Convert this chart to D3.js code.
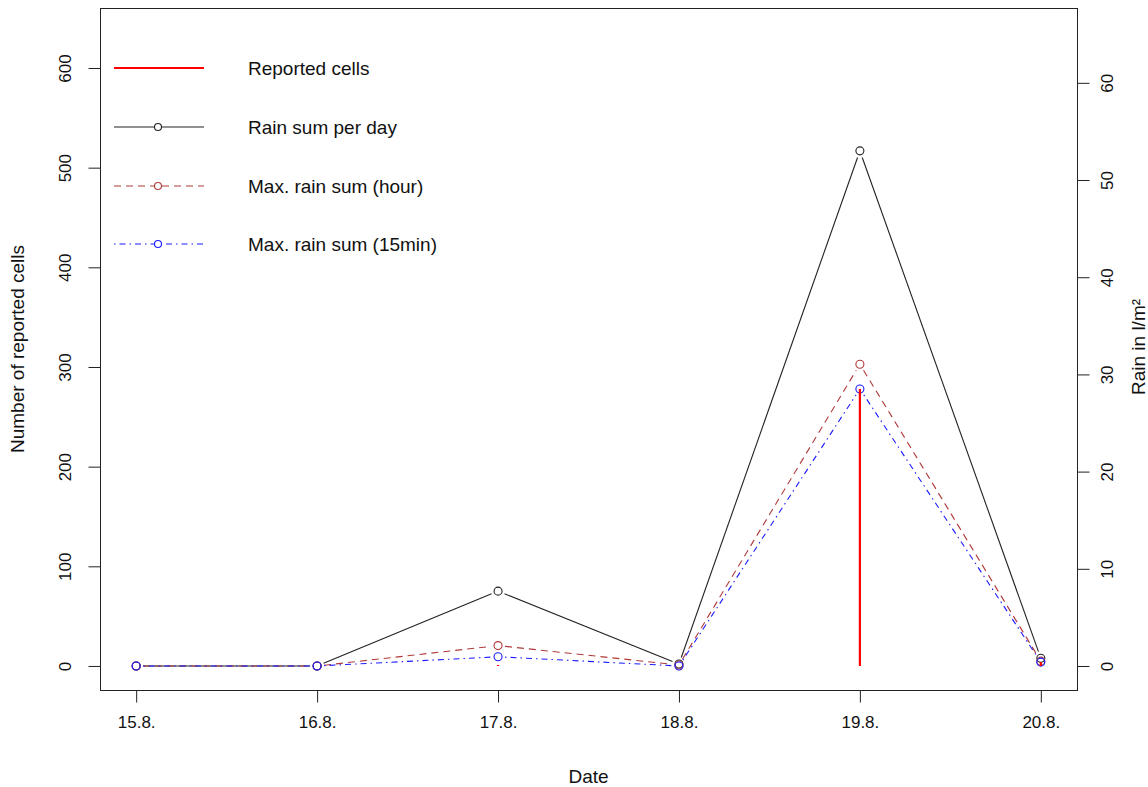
<!DOCTYPE html>
<html><head><meta charset="utf-8">
<script src="https://cdn.jsdelivr.net/npm/d3@7"></script>
<style>body{margin:0;background:#fff}svg{display:block;font-family:"Liberation Sans",Arial,sans-serif}</style>
</head><body><svg id="c" width="1148" height="787"></svg>
<script>
const dates = ["15.8.","16.8.","17.8.","18.8.","19.8.","20.8."];
const reportedCells = [0, 0, 1, 0, 278, 4];
const rainDay = [0, 0, 7.7, 0.2, 53.0, 0.8];
const rainHour = [0, 0, 2.1, 0.1, 31.05, 0.5];
const rain15 = [0, 0, 0.95, 0, 28.5, 0.4];
const leftTicks = [0,100,200,300,400,500,600];
const rightTicks = [0,10,20,30,40,50,60];
const legendLabels = ["Reported cells","Rain sum per day","Max. rain sum (hour)","Max. rain sum (15min)"];

const svg = d3.select("#c");
const L=100, R=1077, T=8, B=690;
const x = d3.scaleLinear().domain([-0.2,5.2]).range([L,R]);
const yL = d3.scaleLinear().domain([-24.1,660.2]).range([B,T]);
const yR = d3.scaleLinear().domain([-2.47,67.7]).range([B,T]);
const idx = dates.map((d,i)=>i);

svg.append("rect").attr("x",L+0.5).attr("y",T+0.5).attr("width",R-L).attr("height",B-T)
  .attr("fill","none").attr("stroke","#222").attr("stroke-width",1);

const fs = 17, tfs = 19;
const bottom = svg.append("g").attr("transform",`translate(0,${B+0.5})`)
  .call(d3.axisBottom(x).tickValues(idx).tickFormat(i=>dates[i]).tickSize(12).tickPadding(13));
const left = svg.append("g").attr("transform",`translate(${L+0.5},0)`)
  .call(d3.axisLeft(yL).tickValues(leftTicks).tickSize(12).tickPadding(8));
const right = svg.append("g").attr("transform",`translate(${R+0.5},0)`)
  .call(d3.axisRight(yR).tickValues(rightTicks).tickSize(12).tickPadding(8));
[bottom,left,right].forEach(g=>{
  g.select(".domain").remove();
  g.selectAll("line").attr("stroke","#222");
  g.selectAll("text").attr("font-size",fs).attr("fill","#111").attr("font-family","Liberation Sans, Arial, sans-serif");
});
left.selectAll(".tick text").attr("text-anchor","middle").attr("dy",null).attr("x",null)
  .attr("transform","translate(-34,0) rotate(-90)").attr("dominant-baseline","middle");
right.selectAll(".tick text").attr("text-anchor","middle").attr("dy",null).attr("x",null)
  .attr("transform","translate(31,0) rotate(-90)").attr("dominant-baseline","middle");

svg.append("text").attr("x",(L+R)/2).attr("y",783).attr("text-anchor","middle").attr("font-size",tfs).attr("fill","#111").text("Date");
svg.append("text").attr("transform",`translate(24,${(T+B)/2}) rotate(-90)`).attr("text-anchor","middle").attr("font-size",tfs).attr("fill","#111").text("Number of reported cells");
svg.append("text").attr("transform",`translate(1145,${(T+B)/2 - 2}) rotate(-90)`).attr("text-anchor","middle").attr("font-size",tfs).attr("fill","#111").text("Rain in l/m²");

const gap = 7;
function seriesB(vals, color, dash){
  const pts = vals.map((v,i)=>[x(i), yR(v)]);
  const g = svg.append("g");
  for(let i=0;i<pts.length-1;i++){
    const [x1,y1]=pts[i],[x2,y2]=pts[i+1];
    const dx=x2-x1, dy=y2-y1, len=Math.hypot(dx,dy);
    if(len<=2*gap) continue;
    const ux=dx/len, uy=dy/len;
    g.append("line").attr("x1",x1+ux*gap).attr("y1",y1+uy*gap).attr("x2",x2-ux*gap).attr("y2",y2-uy*gap)
      .attr("stroke",color).attr("stroke-width",1.1).attr("stroke-dasharray",dash);
  }
  g.selectAll("circle").data(pts).join("circle").attr("cx",d=>d[0]).attr("cy",d=>d[1]).attr("r",4)
    .attr("fill","none").attr("stroke",color).attr("stroke-width",1.1);
}
const cBlack="#222", cBrown="#B03A3A", cBlue="#1a1aff";
const dashHour="7,5", dash15="1.5,4,6,4";
seriesB(rainDay, cBlack, null);
seriesB(rainHour, cBrown, dashHour);
seriesB(rain15, cBlue, dash15);

svg.append("g").selectAll("line").data(reportedCells).join("line")
  .attr("x1",(d,i)=>x(i)).attr("x2",(d,i)=>x(i)).attr("y1",yL(0)).attr("y2",d=>yL(d))
  .attr("stroke","#ff0000").attr("stroke-width",2.2);

const lg = svg.append("g");
const rows=[68,127,186,244];
const styles=[{c:"#ff0000",w:2.2,d:null,p:false},{c:cBlack,w:1.1,d:null,p:true},{c:cBrown,w:1.1,d:dashHour,p:true},{c:cBlue,w:1.1,d:dash15,p:true}];
rows.forEach((yy,i)=>{
  const s=styles[i];
  lg.append("line").attr("x1",114).attr("x2",204).attr("y1",yy).attr("y2",yy)
    .attr("stroke",s.c).attr("stroke-width",s.w).attr("stroke-dasharray",s.d);
  if(s.p) lg.append("circle").attr("cx",158).attr("cy",yy).attr("r",3.5).attr("fill","#fff").attr("stroke",s.c).attr("stroke-width",1.1);
  lg.append("text").attr("x",248).attr("y",yy+7).attr("font-size",tfs).attr("fill","#111").text(legendLabels[i]);
});
</script></body></html>
